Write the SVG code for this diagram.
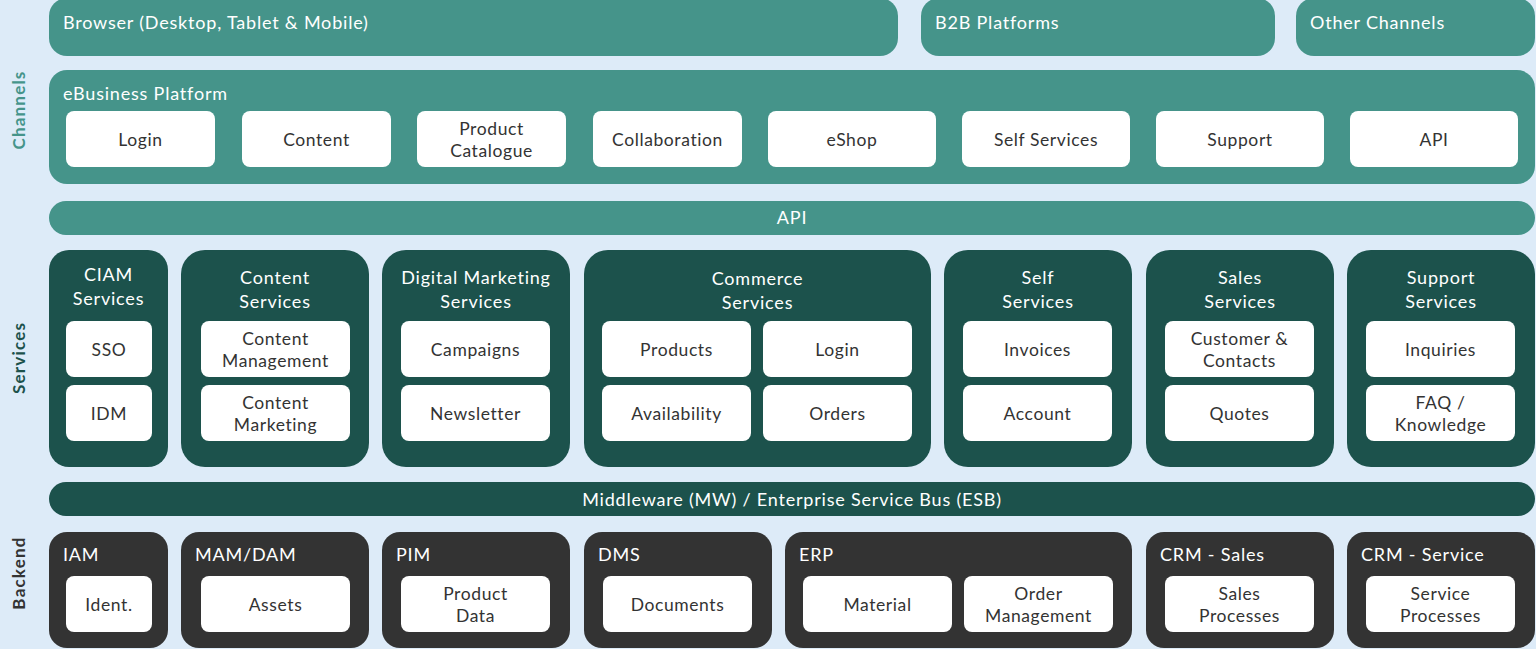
<svg xmlns="http://www.w3.org/2000/svg" width="1536" height="649" viewBox="0 0 1536 649">
<style>
.teal{fill:#45948a}
.dg{fill:#1c524c}
.gr{fill:#333333}
.wb{fill:#ffffff}
text{font-family:Lato,"Liberation Sans",sans-serif;font-size:18px;letter-spacing:0.8px}
.w{fill:#ffffff}
.wc{fill:#ffffff;text-anchor:middle}
.d{fill:#333333;text-anchor:middle;font-size:17.5px;letter-spacing:0.6px}
.side{font-weight:bold;font-size:17px;letter-spacing:1.2px;text-anchor:middle}
</style>
<rect x="0" y="0" width="1536" height="649" fill="#ddebf8"/>

<g id="labels">
<text class="side" fill="#45948a" transform="translate(25,110) rotate(-90)">Channels</text>
<text class="side" fill="#1c524c" transform="translate(25,358) rotate(-90)">Services</text>
<text class="side" fill="#333333" transform="translate(25,573) rotate(-90)">Backend</text>
</g>

<g id="browser"><rect class="teal" x="49" y="-2" width="849" height="58" rx="18"/><text class="w" x="63" y="29">Browser (Desktop, Tablet &amp; Mobile)</text></g>
<g id="b2b"><rect class="teal" x="921" y="-2" width="354" height="58" rx="18"/><text class="w" x="935" y="29">B2B Platforms</text></g>
<g id="other"><rect class="teal" x="1296" y="-2" width="239" height="58" rx="18"/><text class="w" x="1310" y="29">Other Channels</text></g>

<g id="ebusiness">
<rect class="teal" x="49" y="70" width="1486" height="114" rx="18"/>
<text class="w" x="63" y="100">eBusiness Platform</text>
<rect class="wb" x="66" y="111" width="149" height="56" rx="8"/><text class="d" x="140.5" y="145.5">Login</text>
<rect class="wb" x="242" y="111" width="149" height="56" rx="8"/><text class="d" x="316.5" y="145.5">Content</text>
<rect class="wb" x="417" y="111" width="149" height="56" rx="8"/><text class="d" x="491.5" y="135">Product</text><text class="d" x="491.5" y="157">Catalogue</text>
<rect class="wb" x="593" y="111" width="149" height="56" rx="8"/><text class="d" x="667.5" y="145.5">Collaboration</text>
<rect class="wb" x="768" y="111" width="168" height="56" rx="8"/><text class="d" x="852" y="145.5">eShop</text>
<rect class="wb" x="962" y="111" width="168" height="56" rx="8"/><text class="d" x="1046" y="145.5">Self Services</text>
<rect class="wb" x="1156" y="111" width="168" height="56" rx="8"/><text class="d" x="1240" y="145.5">Support</text>
<rect class="wb" x="1350" y="111" width="168" height="56" rx="8"/><text class="d" x="1434" y="145.5">API</text>
</g>

<g id="api"><rect class="teal" x="49" y="201" width="1486" height="34" rx="17"/><text class="wc" x="792" y="224">API</text></g>

<g id="ciam">
<rect class="dg" x="49" y="250" width="119" height="217" rx="20"/>
<text class="wc" x="108.5" y="281">CIAM</text><text class="wc" x="108.5" y="305">Services</text>
<rect class="wb" x="66" y="321" width="86" height="56" rx="8"/><text class="d" x="109" y="355.5">SSO</text>
<rect class="wb" x="66" y="385" width="86" height="56" rx="8"/><text class="d" x="109" y="419.5">IDM</text>
</g>

<g id="content-services">
<rect class="dg" x="181" y="250" width="188" height="217" rx="24"/>
<text class="wc" x="275" y="284">Content</text><text class="wc" x="275" y="308">Services</text>
<rect class="wb" x="201" y="321" width="149" height="56" rx="8"/><text class="d" x="275.5" y="345">Content</text><text class="d" x="275.5" y="367">Management</text>
<rect class="wb" x="201" y="385" width="149" height="56" rx="8"/><text class="d" x="275.5" y="409">Content</text><text class="d" x="275.5" y="431">Marketing</text>
</g>

<g id="digital-marketing">
<rect class="dg" x="382" y="250" width="188" height="217" rx="24"/>
<text class="wc" x="476" y="284">Digital Marketing</text><text class="wc" x="476" y="308">Services</text>
<rect class="wb" x="401" y="321" width="149" height="56" rx="8"/><text class="d" x="475.5" y="355.5">Campaigns</text>
<rect class="wb" x="401" y="385" width="149" height="56" rx="8"/><text class="d" x="475.5" y="419.5">Newsletter</text>
</g>

<g id="commerce">
<rect class="dg" x="584" y="250" width="347" height="217" rx="24"/>
<text class="wc" x="757.5" y="285">Commerce</text><text class="wc" x="757.5" y="309">Services</text>
<rect class="wb" x="602" y="321" width="149" height="56" rx="8"/><text class="d" x="676.5" y="355.5">Products</text>
<rect class="wb" x="763" y="321" width="149" height="56" rx="8"/><text class="d" x="837.5" y="355.5">Login</text>
<rect class="wb" x="602" y="385" width="149" height="56" rx="8"/><text class="d" x="676.5" y="419.5">Availability</text>
<rect class="wb" x="763" y="385" width="149" height="56" rx="8"/><text class="d" x="837.5" y="419.5">Orders</text>
</g>

<g id="self-services">
<rect class="dg" x="944" y="250" width="188" height="217" rx="24"/>
<text class="wc" x="1038" y="284">Self</text><text class="wc" x="1038" y="308">Services</text>
<rect class="wb" x="963" y="321" width="149" height="56" rx="8"/><text class="d" x="1037.5" y="355.5">Invoices</text>
<rect class="wb" x="963" y="385" width="149" height="56" rx="8"/><text class="d" x="1037.5" y="419.5">Account</text>
</g>

<g id="sales-services">
<rect class="dg" x="1146" y="250" width="188" height="217" rx="24"/>
<text class="wc" x="1240" y="284">Sales</text><text class="wc" x="1240" y="308">Services</text>
<rect class="wb" x="1165" y="321" width="149" height="56" rx="8"/><text class="d" x="1239.5" y="345">Customer &amp;</text><text class="d" x="1239.5" y="367">Contacts</text>
<rect class="wb" x="1165" y="385" width="149" height="56" rx="8"/><text class="d" x="1239.5" y="419.5">Quotes</text>
</g>

<g id="support-services">
<rect class="dg" x="1347" y="250" width="188" height="217" rx="24"/>
<text class="wc" x="1441" y="284">Support</text><text class="wc" x="1441" y="308">Services</text>
<rect class="wb" x="1366" y="321" width="149" height="56" rx="8"/><text class="d" x="1440.5" y="355.5">Inquiries</text>
<rect class="wb" x="1366" y="385" width="149" height="56" rx="8"/><text class="d" x="1440.5" y="409">FAQ /</text><text class="d" x="1440.5" y="431">Knowledge</text>
</g>

<g id="middleware"><rect class="dg" x="49" y="482" width="1486" height="34" rx="17"/><text class="wc" x="792" y="505.5">Middleware (MW) / Enterprise Service Bus (ESB)</text></g>

<g id="iam">
<rect class="gr" x="49" y="532" width="119" height="116" rx="18"/>
<text class="w" x="63" y="561">IAM</text>
<rect class="wb" x="66" y="576" width="86" height="56" rx="8"/><text class="d" x="109" y="610.5">Ident.</text>
</g>
<g id="mam">
<rect class="gr" x="181" y="532" width="188" height="116" rx="18"/>
<text class="w" x="195" y="561">MAM/DAM</text>
<rect class="wb" x="201" y="576" width="149" height="56" rx="8"/><text class="d" x="275.5" y="610.5">Assets</text>
</g>
<g id="pim">
<rect class="gr" x="382" y="532" width="188" height="116" rx="18"/>
<text class="w" x="396" y="561">PIM</text>
<rect class="wb" x="401" y="576" width="149" height="56" rx="8"/><text class="d" x="475.5" y="600">Product</text><text class="d" x="475.5" y="622">Data</text>
</g>
<g id="dms">
<rect class="gr" x="584" y="532" width="188" height="116" rx="18"/>
<text class="w" x="598" y="561">DMS</text>
<rect class="wb" x="603" y="576" width="149" height="56" rx="8"/><text class="d" x="677.5" y="610.5">Documents</text>
</g>
<g id="erp">
<rect class="gr" x="785" y="532" width="347" height="116" rx="18"/>
<text class="w" x="799" y="561">ERP</text>
<rect class="wb" x="803" y="576" width="149" height="56" rx="8"/><text class="d" x="877.5" y="610.5">Material</text>
<rect class="wb" x="964" y="576" width="149" height="56" rx="8"/><text class="d" x="1038.5" y="600">Order</text><text class="d" x="1038.5" y="622">Management</text>
</g>
<g id="crm-sales">
<rect class="gr" x="1146" y="532" width="188" height="116" rx="18"/>
<text class="w" x="1160" y="561">CRM - Sales</text>
<rect class="wb" x="1165" y="576" width="149" height="56" rx="8"/><text class="d" x="1239.5" y="600">Sales</text><text class="d" x="1239.5" y="622">Processes</text>
</g>
<g id="crm-service">
<rect class="gr" x="1347" y="532" width="188" height="116" rx="18"/>
<text class="w" x="1361" y="561">CRM - Service</text>
<rect class="wb" x="1366" y="576" width="149" height="56" rx="8"/><text class="d" x="1440.5" y="600">Service</text><text class="d" x="1440.5" y="622">Processes</text>
</g>

<g id="connectors"></g>
</svg>
